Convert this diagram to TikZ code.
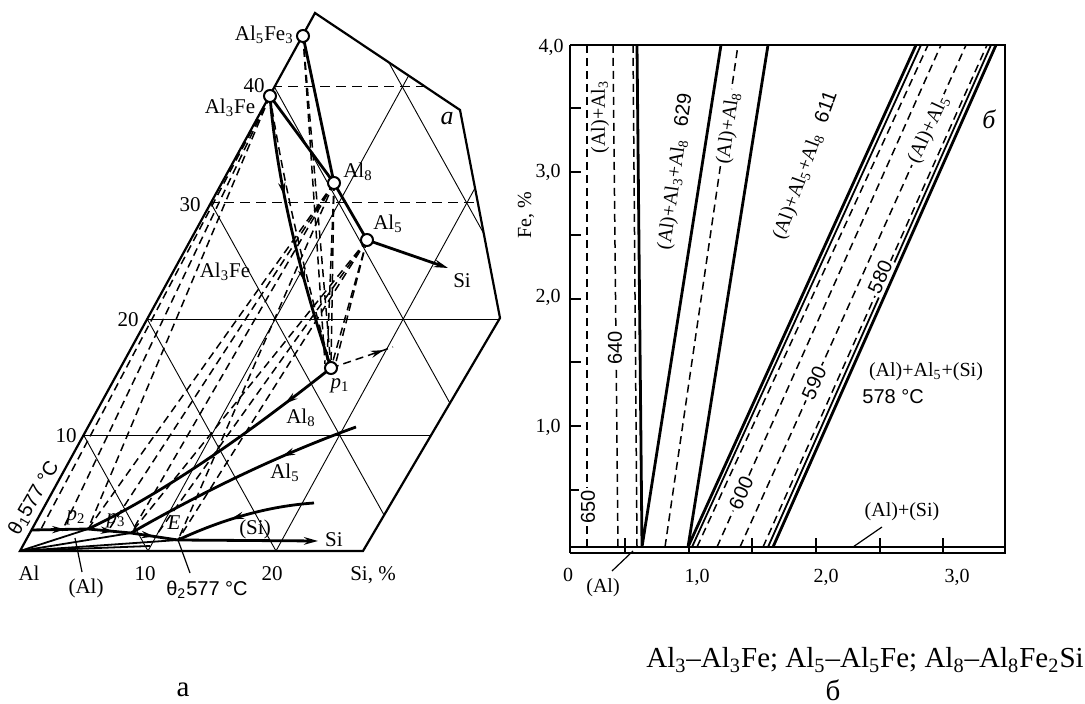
\documentclass[tikz,border=0pt]{standalone}
\usepackage{fontspec}
\setmainfont{Liberation Serif}
\newfontfamily\sansf{Liberation Sans}
\usetikzlibrary{arrows.meta,decorations.markings}
\tikzset{
 thk/.style={line width=1.4pt},
 mid/.style={line width=0.9pt},
 thn/.style={line width=0.45pt},
 dsh/.style={line width=0.75pt, dash pattern=on 4pt off 2.5pt},
 gdsh/.style={line width=0.5pt, dash pattern=on 5pt off 3pt},
 opt/.style={circle, draw, line width=1pt, fill=white, inner sep=0pt, minimum size=6pt},
 lbl/.style={font=\fontsize{10.5}{12}\selectfont, inner sep=0pt},
 rlbl/.style={font=\fontsize{10}{12}\selectfont, inner sep=0pt},
 wrlbl/.style={rlbl, fill=white, inner sep=1.2pt},
 slbl/.style={font=\sansf\fontsize{10}{12}\selectfont, inner sep=0pt},
 wlbl/.style={slbl, fill=white, inner sep=1.2pt},
 arr/.style={postaction={decorate, decoration={markings, mark=at position #1 with {\arrow{Stealth[length=6.5pt,width=3.6pt]}}}}},
 endarr/.style={-{Stealth[length=7pt,width=3.8pt]}},
}
\begin{document}
\begin{tikzpicture}[x=0.5pt,y=-0.5pt]
\useasboundingbox (0,0) rectangle (1085,704);
% ================= LEFT DIAGRAM =================
\coordinate (Al) at (20,551);
\coordinate (Al5Fe3) at (303,36);
\coordinate (Al3Fe) at (270,96);
\coordinate (Al8) at (334,183);
\coordinate (Al5) at (367,240);
\coordinate (p1) at (331,368);
\coordinate (p2) at (88,529);
\coordinate (p3) at (131,533);
\coordinate (E) at (178,540);
\coordinate (e1) at (31,530);
\coordinate (e2) at (178,551);
\coordinate (SiA) at (448,268);
\coordinate (SiB) at (318,541);
\coordinate (p1d) at (393,347);
\coordinate (s8) at (356,427);
\coordinate (sSi) at (314,503);
% grid clipped to the outline
\begin{scope}
\clip (20,551) -- (363,551) -- (500,318) -- (460,110) -- (315,13) -- cycle;
\foreach \s in {10,20,...,50} \draw[thn] ({52.2+12.8*\s},609) -- ({-12.2+6.36*\s},{493-11.6*\s});
\foreach \s in {10,20} \draw[thn] ({20+12.8*\s},551) -- ({338+12.8*\s},-29);
\draw[thn] (0,435) -- (600,435);
\draw[thn] (0,319) -- (600,319);
\draw[gdsh] (0,203) -- (600,203);
\draw[gdsh] (0,87) -- (600,87);
\end{scope}
\draw[line width=1.1pt] (20,551) -- (363,551) -- (500,318) -- (460,110) -- (315,13) -- cycle;
% dashed tie lines
\draw[dsh] (Al3Fe) -- (40,531);
\draw[dsh] (Al3Fe) -- (p2);
\draw[dsh] (Al3Fe) -- (62,531);
\draw[dsh] (Al8) -- (p2);
\draw[dsh] (Al8) -- (108,531);
\draw[dsh] (Al8) -- (p3);
\draw[dsh] (Al8) -- (E);
\draw[dsh] (Al5) -- (p3);
\draw[dsh] (Al5) -- (155,537);
\draw[dsh] (Al5) -- (E);
\draw[dsh] (Al5Fe3) -- (325,364);
\draw[dsh] (Al5Fe3) -- (p1);
\draw[dsh] (Al8) -- (p1);
\draw[dsh] (Al8) -- (327,362);
\draw[dsh] (Al5) -- (p1);
\draw[dsh] (Al5) -- (336,362);
\draw[dsh] (Al3Fe) .. controls (286,200) and (312,300) .. (p1);
% heavy lines
\draw[thk] (Al3Fe) -- (Al8) -- (Al5);
\draw[thk] (Al5Fe3) -- (Al8);
\draw[thk, endarr] (Al5) -- (SiA);
\draw[thk, arr=0.36, arr=0.68] (Al3Fe) .. controls (276,170) and (295,260) .. (p1);
\draw[dsh, arr=0.85] (p1) -- (p1d);
\draw[thk, arr=0.2] (p1) .. controls (255,428) and (170,490) .. (p2);
\draw[thk, arr=0.32] (s8) .. controls (281,454) and (206,490) .. (p3);
\draw[thk, arr=0.6] (sSi) .. controls (269,506) and (223,519) .. (E);
\draw[mid] (Al) -- (p2);
\draw[mid] (Al) -- (p3);
\draw[mid] (Al) -- (E);
\draw[mid] (Al) -- (150,546);
\draw[thk, arr=0.6] (e1) -- (p2);
\draw[thk, arr=0.6] (p2) -- (p3);
\draw[thk, arr=0.5] (p3) -- (E);
\draw[thk, endarr] (E) -- (SiB);
% open circles
\node[opt] (cAl5Fe3) at (Al5Fe3) {};
\node[opt] (cAl3Fe) at (Al3Fe) {};
\node[opt] (cAl8) at (Al8) {};
\node[opt] (cAl5) at (Al5) {};
\node[opt] (cp1) at (p1) {};
% labels
\node[lbl, anchor=east] (tAl5Fe3) at (294,35) {Al\textsubscript{5}Fe\textsubscript{3}};
\node[lbl] (t40) at (254,86) {40};
\node[lbl] (tAl3Fe) at (230,108) {Al\textsubscript{3}Fe};
\node[font=\itshape\fontsize{13}{15}\selectfont, inner sep=0pt] (ta) at (447,119) {a};
\node[lbl] (tAl8a) at (358,172) {Al\textsubscript{8}};
\node[lbl] (t30) at (190,205) {30};
\node[lbl] (tAl5a) at (388,224) {Al\textsubscript{5}};
\node[lbl] (tSiA) at (462,281) {Si};
\node[lbl] (tAl3Feb) at (225,272) {Al\textsubscript{3}Fe};
\node[lbl] (t20) at (128,320) {20};
\node[lbl] (tp1) at (340,386) {\textit{p}\textsubscript{1}};
\node[lbl] (tAl8b) at (301,418) {Al\textsubscript{8}};
\node[lbl] (t10) at (66,436) {10};
\node[lbl] (tAl5b) at (285,473) {Al\textsubscript{5}};
\node[lbl] (tSi) at (255,529) {(Si)};
\node[lbl] (tSiB) at (334,540) {Si};
\node[lbl] (tp2) at (76,518) {\textit{p}\textsubscript{2}};
\node[lbl] (tp3) at (116,521) {\textit{p}\textsubscript{3}};
\node[lbl] (tE) at (174,523) {\textit{E}};
\node[slbl, rotate=60] (te1) at (34,498) {θ\textsubscript{1}577 °C};
\node[lbl] (tAl) at (29,573) {Al};
\node[lbl] (tAlss) at (86,588) {(Al)};
\node[lbl] (tb10) at (145,574) {10};
\node[slbl] (te2) at (207,590) {θ\textsubscript{2}577 °C};
\node[lbl] (tb20) at (272,574) {20};
\node[lbl] (tSip) at (373,575) {Si, \%};
\coordinate (lAl) at (82,572);
\coordinate (lAl2) at (75,538);
\draw[thn, line width=0.6pt] (lAl) -- (lAl2);
\coordinate (le2) at (190,573);
\draw[thn, line width=0.6pt] (le2) -- (E);
% ================= RIGHT DIAGRAM =================
\draw[line width=1pt] (570,45) -- (1005,45) -- (1005,553) -- (570,553);
\draw[line width=1.4pt] (570,45) -- (570,553);
\draw[line width=1.4pt] (570,547) -- (1005,547);
\foreach \y in {108,172,235,299,362,426,490} \draw[line width=0.8pt] (570,\y) -- (581,\y);
\foreach \x in {625,689,752,816,880,943} \draw[line width=0.8pt] (\x,553) -- (\x,538);
\draw[dsh] (587,45) -- (587,547);
\draw[dsh] (613,45) -- (618,547);
\draw[dsh] (633,45) -- (637,547);
\draw[thk] (637,45) -- (642,547) -- (721,45);
\draw[dsh] (665,547) -- (738,45);
\draw[thk] (688,547) -- (768,45);
\draw[thk] (688,547) -- (916,45);
\draw[mid] (692,547) -- (921,45);
\draw[dsh] (697,547) -- (928,45);
\draw[dsh] (717,547) -- (941,45);
\draw[dsh] (740,547) -- (966,45);
\draw[dsh] (763,547) -- (987,45);
\draw[mid] (768,547) -- (991,45);
\draw[thk] (773,547) -- (996,45);
\node[wlbl, rotate=90] (t650) at (588,507) {650};
\node[wlbl, rotate=90] (t640) at (615,348) {640};
\node[wlbl, rotate=66] (t600) at (741,493) {600};
\node[wlbl, rotate=66] (t590) at (814,383) {590};
\node[wlbl, rotate=66] (t580) at (880,277) {580};
\node[rlbl, rotate=90] (r1) at (600,117) {(Al)+Al\textsubscript{3}};
\node[rlbl, rotate=82] (r2) at (676,172) {(Al)+Al\textsubscript{3}+Al\textsubscript{8}\hspace{6pt}{\sansf 629}};
\node[wrlbl, rotate=82] (r3) at (729,128) {(Al)+Al\textsubscript{8}};
\node[rlbl, rotate=70] (r4) at (806,166) {(Al)+Al\textsubscript{5}+Al\textsubscript{8}\hspace{6pt}{\sansf 611}};
\node[wrlbl, rotate=65] (r5) at (929,130) {(Al)+Al\textsubscript{5}};
\node[font=\itshape\fontsize{13}{15}\selectfont, inner sep=0pt] (tb) at (989,119) {б};
\node[rlbl, rotate=90] (tFe) at (526,215) {Fe, \%};
\node[rlbl] (y4) at (551,47) {4,0};
\node[rlbl] (y3) at (548,172) {3,0};
\node[rlbl] (y2) at (548,297) {2,0};
\node[rlbl] (y1) at (548,427) {1,0};
\node[rlbl] (x0) at (568,575) {0};
\node[rlbl] (x1) at (697,577) {1,0};
\node[rlbl] (x2) at (826,577) {2,0};
\node[rlbl] (x3) at (957,577) {3,0};
\node[rlbl] (rAl) at (603,588) {(Al)};
\coordinate (rl1) at (612,571);
\coordinate (rl2) at (633,551);
\draw[line width=0.6pt] (rl1) -- (rl2);
\node[rlbl] (rE) at (926,372) {(Al)+Al\textsubscript{5}+(Si)};
\node[slbl, anchor=west] (rT) at (862,397) {578 °C};
\node[rlbl] (rAlSi) at (902,512) {(Al)+(Si)};
\coordinate (rs1) at (882,527);
\coordinate (rs2) at (853,547);
\draw[line width=0.6pt] (rs1) -- (rs2);
% ================= CAPTIONS =================
\node[font=\fontsize{14.5}{17}\selectfont, inner sep=0pt] (cap) at (865,660) {Al\textsubscript{3}--Al\textsubscript{3}Fe; Al\textsubscript{5}--Al\textsubscript{5}Fe; Al\textsubscript{8}--Al\textsubscript{8}Fe\textsubscript{2}Si};
\node[font=\fontsize{14.5}{17}\selectfont, inner sep=0pt] (capa) at (183,690) {а};
\node[font=\fontsize{14.5}{17}\selectfont, inner sep=0pt] (capb) at (833,690) {б};
\end{tikzpicture}
\end{document}
